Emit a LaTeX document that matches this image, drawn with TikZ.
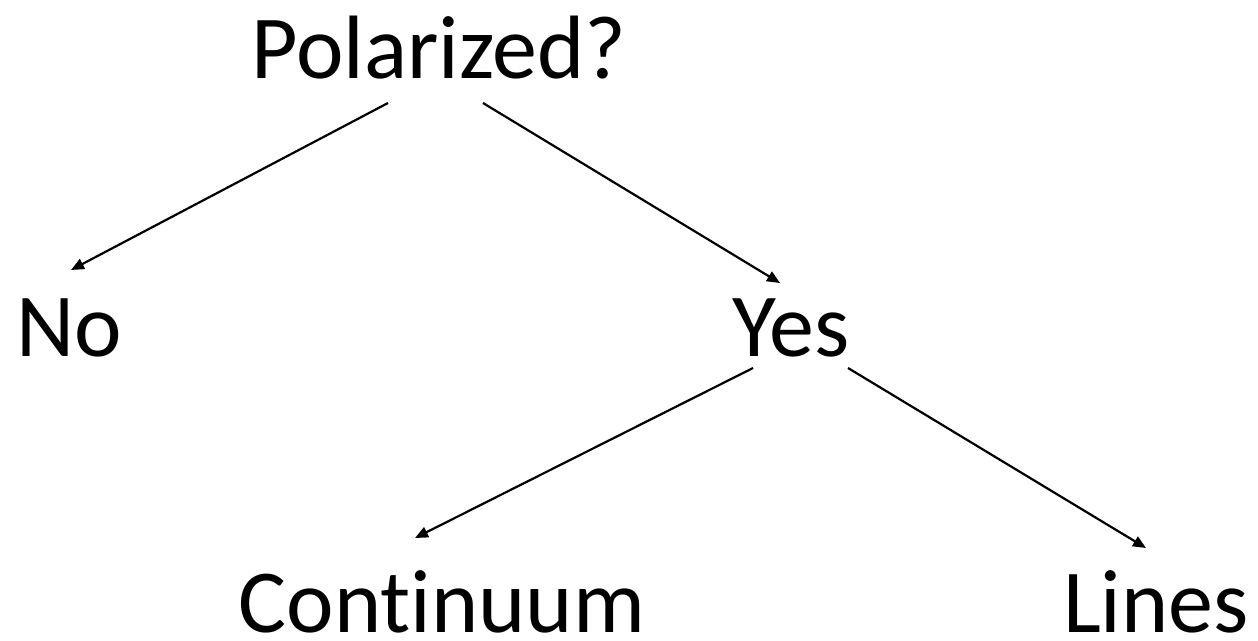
\documentclass[tikz,border=0pt]{standalone}
\usepackage{fontspec}
\setmainfont{Carlito}[Ligatures=NoCommon]
\usetikzlibrary{arrows.meta}
\begin{document}
\begin{tikzpicture}[x=1pt,y=-1pt,
  lbl/.style={anchor=base,inner sep=0pt,outer sep=0pt,font=\fontsize{90}{100}\selectfont},
  conn/.style={line width=2.2pt,-{Triangle[width=11pt,length=13pt]}}]
\useasboundingbox (0,0) rectangle (1258,640);
\node[lbl] (pol) at (439,78) {Polarized?};
\node[lbl] (no) at (69,356) {No};
\node[lbl] (yes) at (791,356) {Yes};
\node[lbl] (cont) at (442,632) {Continuum};
\node[lbl] (lines) at (1156,632) {Lines};
\coordinate (p1) at (388,103);
\coordinate (n1) at (71,270);
\coordinate (p2) at (483,103);
\coordinate (y1) at (780,283);
\coordinate (y2) at (753,368);
\coordinate (c1) at (415,538);
\coordinate (y3) at (848,368);
\coordinate (l1) at (1146,548);
\draw[conn] (p1) -- (n1);
\draw[conn] (p2) -- (y1);
\draw[conn] (y2) -- (c1);
\draw[conn] (y3) -- (l1);
\end{tikzpicture}
\end{document}
